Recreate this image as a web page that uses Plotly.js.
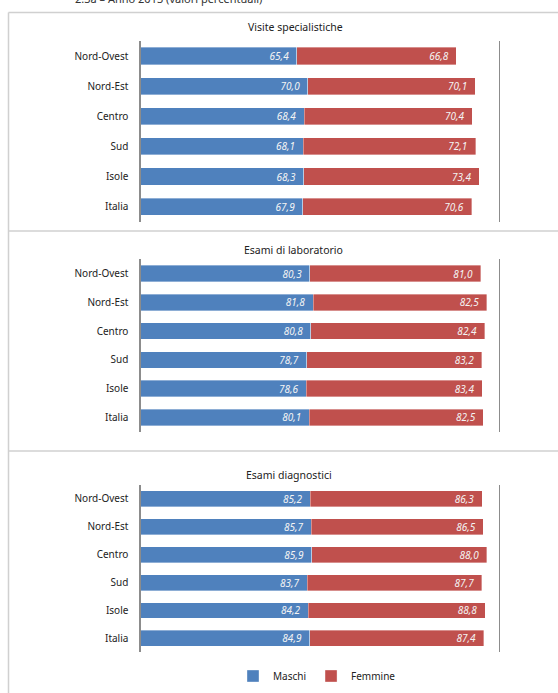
<!DOCTYPE html>
<html>
<head>
<meta charset="utf-8">
<script src="https://cdn.plot.ly/plotly-3.0.1.min.js"></script>
<style>html,body{margin:0;padding:0;background:#fff;}#chart{width:558px;height:693px;}</style>
</head>
<body>
<div id="chart"></div>
<script>
const categorie = ['Nord-Ovest', 'Nord-Est', 'Centro', 'Sud', 'Isole', 'Italia'];
const titoliPannelli = ['Visite specialistiche', 'Esami di laboratorio', 'Esami diagnostici'];
const serie = ['Maschi', 'Femmine'];
const visiteMaschi = [65.4, 70.0, 68.4, 68.1, 68.3, 67.9];
const visiteFemmine = [66.8, 70.1, 70.4, 72.1, 73.4, 70.6];
const laboratorioMaschi = [80.3, 81.8, 80.8, 78.7, 78.6, 80.1];
const laboratorioFemmine = [81.0, 82.5, 82.4, 83.2, 83.4, 82.5];
const diagnosticiMaschi = [85.2, 85.7, 85.9, 83.7, 84.2, 84.9];
const diagnosticiFemmine = [86.3, 86.5, 88.0, 87.7, 88.8, 87.4];

const W = 558, H = 693;
const px = x => x / W;
const py = y => 1 - y / H;
const colori = ['#4F81BD', '#C0504D'];
const FONT = 'Noto Sans, Open Sans, sans-serif';

const pannelli = [
  {m: visiteMaschi, f: visiteFemmine, range: [0, 150], top: 41, bottom: 221.7, title: 27, tx: 295},
  {m: laboratorioMaschi, f: laboratorioFemmine, range: [0, 170], top: 259.3, bottom: 431.7, title: 249.5, tx: 293},
  {m: diagnosticiMaschi, f: diagnosticiFemmine, range: [0, 180], top: 485, bottom: 652.3, title: 475, tx: 289}
];

const traces = [];
const layout = {
  width: W, height: H,
  margin: {l: 0, r: 0, t: 0, b: 0},
  paper_bgcolor: '#fff', plot_bgcolor: 'rgba(0,0,0,0)',
  barmode: 'stack', bargap: 0.43,
  separators: ',.',
  font: {family: FONT, size: 10, color: '#222'},
  showlegend: true,
  legend: {orientation: 'h', x: px(233), xanchor: 'left', y: py(676), yanchor: 'middle',
           font: {size: 10, color: '#222'}, itemwidth: 30, traceorder: 'normal', tracegroupgap: 0},
  annotations: [],
  shapes: []
};

pannelli.forEach((p, i) => {
  const n = i === 0 ? '' : String(i + 1);
  [p.m, p.f].forEach((vals, k) => {
    traces.push({
      type: 'bar', orientation: 'h',
      x: vals, y: categorie,
      name: serie[k], legendgroup: serie[k], showlegend: i === 0,
      xaxis: 'x' + n, yaxis: 'y' + n,
      marker: {color: colori[k], line: {color: 'rgba(255,255,255,0.6)', width: 0.6}},
      texttemplate: '%{x:.1f}\u00a0\u00a0',
      textposition: 'inside', insidetextanchor: 'end', textangle: 0, constraintext: 'none',
      textfont: {color: '#f4f4f4', size: 10, style: 'italic', family: FONT},
      hoverinfo: 'skip'
    });
  });
  layout['xaxis' + n] = {
    domain: [px(140.6), px(499)], range: p.range, anchor: 'y' + n,
    showgrid: false, zeroline: false, showticklabels: false, showline: false, ticks: ''
  };
  layout['yaxis' + n] = {
    domain: [py(p.bottom), py(p.top)], anchor: 'x' + n,
    type: 'category', autorange: 'reversed',
    showline: true, mirror: true, linecolor: '#8c8c8c', linewidth: 1.2,
    ticks: '', showgrid: false, zeroline: false, ticklabelstandoff: 9,
    tickfont: {size: 10, color: '#222', family: FONT}
  };
  layout.annotations.push({
    xref: 'paper', yref: 'paper', x: px(p.tx), y: py(p.title), xanchor: 'center', yanchor: 'middle',
    text: titoliPannelli[i], showarrow: false, font: {size: 10.5, color: '#222', family: FONT}
  });
});

// titolo tagliato in alto (come nel riferimento)
layout.annotations.push({
  xref: 'paper', yref: 'paper', x: px(73), y: py(-1.5), xanchor: 'left', yanchor: 'middle',
  text: '2.3a – Anno 2013 (valori percentuali)', showarrow: false,
  font: {size: 11, color: '#333', family: FONT}
});

// cornice
const grigio = '#d0d0d0';
layout.shapes.push({type: 'line', xref: 'paper', yref: 'paper', x0: px(8.5), x1: px(8.5), y0: py(12.5), y1: py(700), line: {color: grigio, width: 1.5}});
[12.5, 231, 451].forEach(y => {
  layout.shapes.push({type: 'line', xref: 'paper', yref: 'paper', x0: px(8.5), x1: px(600), y0: py(y), y1: py(y), line: {color: grigio, width: 1.5}});
});

Plotly.newPlot('chart', traces, layout, {displayModeBar: false, staticPlot: true});
</script>
</body>
</html>
